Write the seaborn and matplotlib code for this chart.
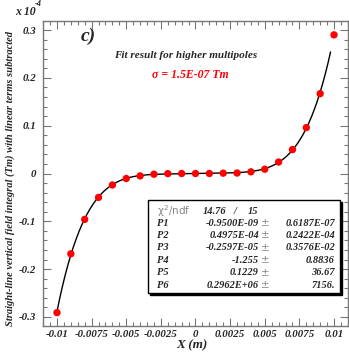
import numpy as np
import pandas as pd
import seaborn as sns
import matplotlib
matplotlib.use("Agg")
import matplotlib.pyplot as plt
from matplotlib.patches import Rectangle
from matplotlib.ticker import MultipleLocator

# ---- data (y in units of 1e-4 Tm) ----
x_m = [-0.010, -0.009, -0.008, -0.007, -0.006, -0.005, -0.004, -0.003, -0.002, -0.001,
       0.0, 0.001, 0.002, 0.003, 0.004, 0.005, 0.006, 0.007, 0.008, 0.009, 0.010]
y_e4 = [-0.291, -0.168, -0.096, -0.050, -0.024, -0.0105, -0.005, -0.0015, -0.0003, 0.0,
        0.0, 0.0, 0.0007, 0.001, 0.0035, 0.009, 0.024, 0.050, 0.096, 0.167, 0.290]

# fit parameters P1..P6 (polynomial in x, result in Tm)
fit_params = [-0.9500E-09, 0.4975E-04, -0.2597E-05, -1.255, 0.1229, 0.2962E+06]
fit_range = [-0.0100, 0.00975]

stat_labels = ["P1", "P2", "P3", "P4", "P5", "P6"]
stat_values = ["-0.9500E-09", "0.4975E-04", "-0.2597E-05", "-1.255", "0.1229", "0.2962E+06"]
stat_errors = ["0.6187E-07", "0.2422E-04", "0.3576E-02", "0.8836", "36.67", "7156."]
chi2_text = "14.76"
ndf_text = "15"

xtick_vals = [-0.01, -0.0075, -0.005, -0.0025, 0.0, 0.0025, 0.005, 0.0075, 0.01]
xtick_labels = ["-0.01", "-0.0075", "-0.005", "-0.0025", "0", "0.0025", "0.005", "0.0075", "0.01"]
ytick_vals = [-0.3, -0.2, -0.1, 0.0, 0.1, 0.2, 0.3]
ytick_labels = ["-0.3", "-0.2", "-0.1", "0", "0.1", "0.2", "0.3"]

sns.set_style("ticks")
plt.rcParams["font.family"] = ["Liberation Serif", "DejaVu Serif"]

W, H = 349, 352
fig = plt.figure(figsize=(W / 100, H / 100), dpi=100)
ax = fig.add_axes([43 / W, 1 - 326 / H, (348 - 43) / W, (326 - 21) / H])

pts = pd.DataFrame({"x": x_m, "y": y_e4})
xf = np.linspace(fit_range[0], fit_range[1], 400)
yf = sum(p * xf ** i for i, p in enumerate(fit_params)) / 1e-4
curve = pd.DataFrame({"x": xf, "y": yf})

sns.lineplot(data=curve, x="x", y="y", ax=ax, color="black", linewidth=1.0, zorder=2)
sns.scatterplot(data=pts, x="x", y="y", ax=ax, color="red", s=28, edgecolor="none", zorder=3)

ax.set_xlim(-0.01101, 0.01101)
ax.set_ylim(-0.319, 0.319)
ax.set_xticks(xtick_vals)
ax.set_xticklabels(xtick_labels)
ax.set_yticks(ytick_vals)
ax.set_yticklabels(ytick_labels)
ax.xaxis.set_minor_locator(MultipleLocator(0.0005))
ax.yaxis.set_minor_locator(MultipleLocator(0.02))
ax.tick_params(which="both", direction="in", top=True, right=True, color="#777777",
               labelsize=7.8, width=0.8)
ax.tick_params(which="major", length=6)
ax.tick_params(which="minor", length=3)
ax.tick_params(axis="x", pad=3)
ax.tick_params(axis="y", pad=5)
for lab in ax.get_xticklabels() + ax.get_yticklabels():
    lab.set_fontweight("bold")
    lab.set_fontstyle("italic")
for sp in ax.spines.values():
    sp.set_color("#777777")
    sp.set_linewidth(1.0)

ax.set_xlabel("")
ax.set_ylabel("")
fig.text(192 / W, 1 - 345.5 / H, "X (m)", ha="center", va="center", fontsize=9.5,
         fontweight="bold", fontstyle="italic")
fig.text(10 / W, 1 - 178 / H,
         "Straight-line vertical field integral (Tm) with linear terms subtracted",
         rotation=90, ha="center", va="center", fontsize=7.6, fontweight="bold",
         fontstyle="italic")
fig.text(15 / W, 1 - 12 / H, r"x 10", ha="left", va="center", fontsize=8.5,
         fontweight="bold", fontstyle="italic")
fig.text(35 / W, 1 - 4 / H, "-4", ha="left", va="center", fontsize=6,
         fontweight="bold", fontstyle="italic")
fig.text(88 / W, 1 - 36 / H, "c)", ha="center", va="center", fontsize=14,
         fontweight="bold", fontstyle="italic")
fig.text(186 / W, 1 - 56 / H, "Fit result for higher multipoles", ha="center",
         va="center", fontsize=8, fontweight="bold", fontstyle="italic")
fig.text(190 / W, 1 - 75 / H, "\u03c3 = 1.5E-07 Tm", ha="center", va="center",
         fontsize=8.5, fontweight="bold", fontstyle="italic", color="red")

# stats box
bx0, by0, bx1, by1 = 148, 200, 340, 293
fig.patches.append(Rectangle((bx0 / W + 1.5 / W, 1 - (by1 + 1.5) / H), (bx1 - bx0) / W,
                             (by1 - by0) / H, transform=fig.transFigure,
                             facecolor="black", edgecolor="black", zorder=5))
fig.patches.append(Rectangle((bx0 / W, 1 - by1 / H), (bx1 - bx0) / W, (by1 - by0) / H,
                             transform=fig.transFigure, facecolor="white",
                             edgecolor="black", linewidth=1.0, zorder=6))
tk = dict(fontsize=7.5, fontweight="bold", fontstyle="italic", va="center", zorder=7)
fig.text(157 / W, 1 - 211 / H, "\u03c7$^{2}$/ndf", ha="left", fontsize=7.5,
         family=["DejaVu Sans"], color="#888888", va="center", zorder=7)
fig.text(203 / W, 1 - 211 / H, chi2_text, ha="left", **tk)
fig.text(235 / W, 1 - 211 / H, "/", ha="center", **tk)
fig.text(248 / W, 1 - 211 / H, ndf_text, ha="left", **tk)
for i, (lab, v, e) in enumerate(zip(stat_labels, stat_values, stat_errors)):
    yy = 1 - (223 + i * 12.4) / H
    fig.text(157 / W, yy, lab, ha="left", **tk)
    fig.text(259 / W, yy, v, ha="right", **tk)
    fig.text(265 / W, yy, "\u00b1", ha="center", fontsize=7.5, color="#888888",
             family=["DejaVu Sans"], va="center", zorder=7)
    fig.text(335 / W, yy, e, ha="right", **tk)

fig.savefig("out.png", dpi=100)
